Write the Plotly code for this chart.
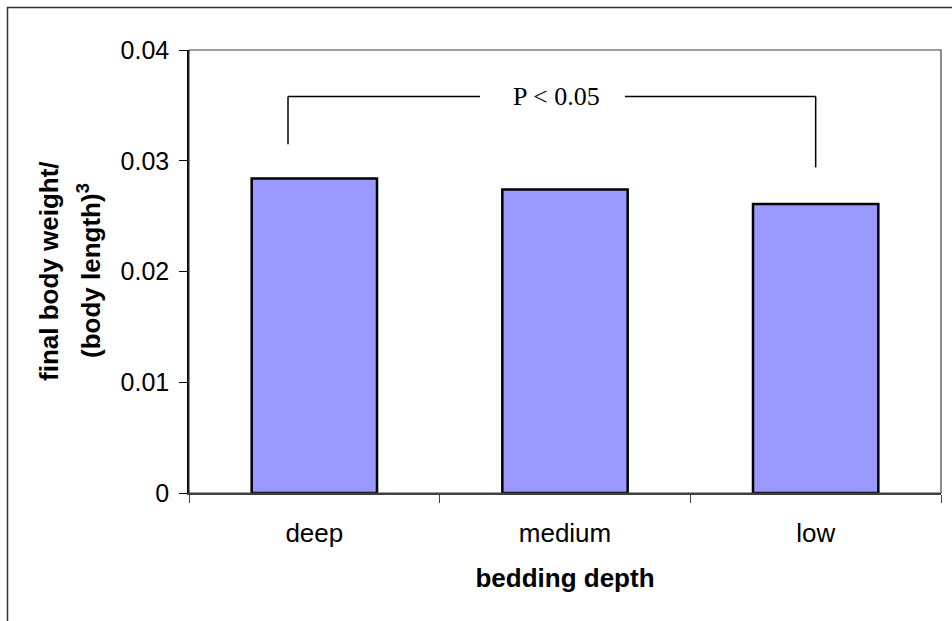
import plotly.graph_objects as go

# bedding depth groups and mean condition index
categories = ["deep", "medium", "low"]
values = [0.0284, 0.0274, 0.0261]

y_ticks = [0, 0.01, 0.02, 0.03, 0.04]
y_tick_labels = ["0", "0.01", "0.02", "0.03", "0.04"]

# significance bracket between deep and low
bracket_y = 0.0358
bracket_left_bottom = 0.0315
bracket_right_bottom = 0.0294
bracket_label = "P < 0.05"

y_title_lines = ["<b>final body weight/</b>", "<b>(body length)<sup>3</sup></b>"]
x_title = "<b>bedding depth</b>"

W, H = 952, 621
L, R, T, B = 189, 11, 50, 128
pw, ph = W - L - R, H - T - B


def px_x(p):
    return (p - L) / pw


def px_y(p):
    return (H - B - p) / ph


fig = go.Figure()
fig.add_trace(go.Bar(
    x=categories, y=values,
    marker=dict(color="#9999FF", line=dict(color="black", width=2.5)),
    width=0.5,
))

line_style = dict(color="black", width=1.5)
shapes = [
    # left leg
    dict(type="line", xref="x", yref="y", x0=-0.105, x1=-0.105,
         y0=bracket_left_bottom, y1=bracket_y, line=line_style),
    # top, left of label
    dict(type="line", xref="x", yref="y", x0=-0.105, x1=0.661,
         y0=bracket_y, y1=bracket_y, line=line_style),
    # top, right of label
    dict(type="line", xref="x", yref="y", x0=1.239, x1=2.0,
         y0=bracket_y, y1=bracket_y, line=line_style),
    # right leg
    dict(type="line", xref="x", yref="y", x0=2.0, x1=2.0,
         y0=bracket_right_bottom, y1=bracket_y, line=line_style),
    # plot area frame
    dict(type="rect", xref="paper", yref="paper", x0=0, x1=1, y0=0, y1=1,
         line=dict(color="#404040", width=1.2), layer="above"),
    # outer chart frame
    dict(type="rect", xref="paper", yref="paper",
         x0=px_x(7.5), x1=px_x(970), y0=px_y(640), y1=px_y(7.5),
         line=dict(color="#333333", width=1.5)),
]

title_font = dict(family="Liberation Sans, Arial, sans-serif", size=26, color="black")
annotations = [
    dict(x=0.968, y=bracket_y, xref="x", yref="y", text=bracket_label,
         showarrow=False, xanchor="center", yanchor="middle",
         font=dict(family="Liberation Serif, Times New Roman, serif", size=26, color="black")),
    # y-axis title, two rotated lines
    dict(x=px_x(49), y=px_y(271), xref="paper", yref="paper", text=y_title_lines[0],
         showarrow=False, textangle=-90, xanchor="center", yanchor="middle",
         font=title_font),
    dict(x=px_x(89), y=px_y(271), xref="paper", yref="paper", text=y_title_lines[1],
         showarrow=False, textangle=-90, xanchor="center", yanchor="middle",
         font=title_font),
]

fig.update_layout(
    width=W, height=H,
    margin=dict(l=L, r=R, t=T, b=B, pad=0),
    paper_bgcolor="white", plot_bgcolor="white",
    showlegend=False,
    shapes=shapes,
    annotations=annotations,
    font=dict(family="Liberation Sans, Arial, sans-serif", color="black", size=26),
    xaxis=dict(
        range=[-0.5, 2.5],
        showline=True, linecolor="#404040", linewidth=1.5,
        ticks="outside", ticklen=8, tickcolor="#404040",
        tickson="boundaries",
        tickfont=dict(size=26),
        ticklabelstandoff=16,
        title=dict(text=x_title, font=dict(size=26), standoff=22),
        showgrid=False, zeroline=False,
    ),
    yaxis=dict(
        range=[0, 0.04],
        tickvals=y_ticks, ticktext=y_tick_labels,
        showline=True, linecolor="black", linewidth=1.5,
        ticks="outside", ticklen=8, tickcolor="black",
        tickfont=dict(size=25),
        ticklabelstandoff=5,
        showgrid=False, zeroline=False,
    ),
)

fig.write_html("out.html")
